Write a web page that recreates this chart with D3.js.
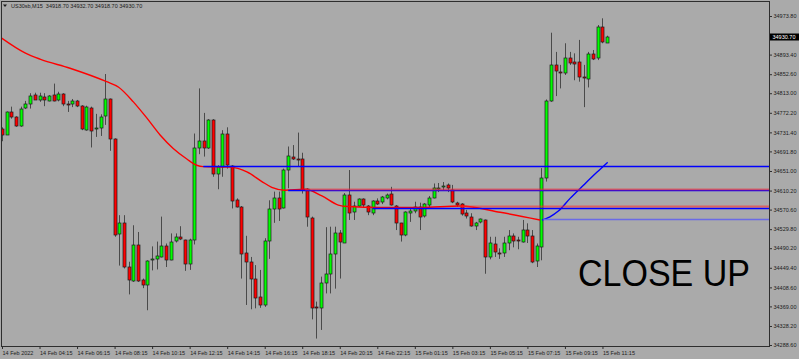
<!DOCTYPE html>
<html>
<head>
<meta charset="utf-8">
<script src="https://cdn.jsdelivr.net/npm/d3@7"></script>
<style>
  body { margin: 0; background: #aaaaaa; }
  svg { display: block; }
</style>
</head>
<body>
<div id="chart"></div>
<script>
// US30sb M15 bars, oldest first
var opens = [
  34738, 34727, 34773, 34763, 34745, 34781, 34790, 34810, 34800, 34806,
  34797, 34809, 34799, 34811, 34791, 34790, 34796, 34786, 34737, 34783,
  34737, 34742, 34765, 34800, 34718, 34519, 34543, 34451, 34422, 34497,
  34423, 34413, 34464, 34467, 34473, 34495, 34467, 34504, 34513, 34507,
  34457, 34507, 34698, 34714, 34698, 34757, 34644, 34659, 34728, 34662,
  34590, 34576, 34481, 34462, 34427, 34388, 34372, 34506, 34572, 34595,
  34574, 34653, 34681, 34677, 34675, 34613, 34554, 34368, 34365, 34417,
  34436, 34478, 34521, 34503, 34602, 34566, 34578, 34592, 34579, 34563,
  34589, 34585, 34594, 34604, 34578, 34542, 34517, 34564, 34568, 34575,
  34556, 34580, 34595, 34615, 34617, 34622, 34611, 34585, 34582, 34563,
  34556, 34536, 34543, 34549, 34471, 34498, 34481, 34480, 34501, 34516,
  34507, 34504, 34528, 34516, 34462, 34492, 34636, 34797, 34872, 34858,
  34856, 34887, 34879, 34877, 34847, 34842, 34894, 34885, 34950, 34918.7
];
var highs = [
  34742, 34775, 34785, 34765, 34785, 34797, 34813, 34814, 34814, 34813,
  34809, 34833, 34816, 34813, 34797, 34801, 34799, 34788, 34787, 34785,
  34770, 34769, 34853, 34802, 34719, 34559, 34559, 34462, 34538, 34524,
  34427, 34465, 34494, 34504, 34556, 34500, 34521, 34521, 34536, 34508,
  34510, 34729, 34823, 34772, 34759, 34759, 34663, 34736, 34742, 34663,
  34594, 34578, 34516, 34472, 34455, 34445, 34511, 34590, 34608, 34608,
  34656, 34702, 34705, 34731, 34689, 34615, 34556, 34379, 34431, 34534,
  34535, 34535, 34528, 34605, 34653, 34587, 34594, 34594, 34580, 34590,
  34594, 34599, 34604, 34618, 34580, 34543, 34567, 34574, 34587, 34585,
  34584, 34599, 34625, 34626, 34628, 34625, 34622, 34587, 34584, 34570,
  34563, 34545, 34552, 34550, 34514, 34514, 34490, 34514, 34528, 34521,
  34514, 34549, 34542, 34528, 34500, 34657, 34800, 34939, 34899, 34872,
  34917, 34899, 34896, 34924, 34872, 34899, 34903, 34955, 34969, 34932.7
];
var lows = [
  34713, 34726, 34760, 34743, 34743, 34780, 34781, 34799, 34795, 34786,
  34796, 34796, 34796, 34786, 34774, 34784, 34784, 34736, 34735, 34700,
  34722, 34724, 34747, 34693, 34514, 34454, 34448, 34394, 34420, 34420,
  34407, 34361, 34444, 34446, 34471, 34451, 34465, 34502, 34507, 34443,
  34445, 34498, 34686, 34681, 34697, 34639, 34613, 34639, 34656, 34573,
  34575, 34427, 34372, 34363, 34365, 34366, 34368, 34468, 34543, 34547,
  34573, 34615, 34674, 34661, 34604, 34535, 34342, 34302, 34320, 34396,
  34396, 34406, 34427, 34501, 34549, 34549, 34576, 34576, 34559, 34559,
  34580, 34582, 34592, 34579, 34528, 34504, 34515, 34545, 34563, 34528,
  34554, 34576, 34594, 34607, 34611, 34607, 34584, 34576, 34558, 34552,
  34535, 34528, 34542, 34437, 34467, 34472, 34468, 34472, 34486, 34492,
  34488, 34502, 34501, 34459, 34451, 34465, 34629, 34795, 34807, 34823,
  34851, 34872, 34840, 34837, 34784, 34825, 34882, 34882, 34917, 34918.7
];
var closes = [
  34725, 34774, 34763, 34745, 34781, 34790, 34807, 34800, 34808, 34799,
  34807, 34797, 34811, 34790, 34790, 34796, 34786, 34738, 34785, 34736,
  34740, 34764, 34800, 34717, 34519, 34542, 34451, 34423, 34497, 34422,
  34413, 34463, 34467, 34473, 34495, 34465, 34504, 34513, 34508, 34457,
  34507, 34698, 34713, 34699, 34757, 34644, 34659, 34728, 34663, 34590,
  34576, 34479, 34462, 34427, 34388, 34372, 34506, 34572, 34594, 34572,
  34654, 34683, 34677, 34674, 34611, 34554, 34367, 34366, 34417, 34436,
  34478, 34521, 34503, 34602, 34565, 34578, 34592, 34580, 34566, 34589,
  34583, 34596, 34601, 34582, 34542, 34517, 34565, 34568, 34576, 34554,
  34582, 34595, 34615, 34616, 34619, 34615, 34585, 34580, 34561, 34557,
  34538, 34543, 34550, 34471, 34501, 34481, 34479, 34501, 34516, 34506,
  34505, 34528, 34516, 34462, 34494, 34636, 34797, 34872, 34859, 34856,
  34887, 34877, 34874, 34846, 34844, 34894, 34883, 34950, 34918.7, 34930.7
];

// moving average (bar index, price)
var maIdx = [-0.4, 4.9, 8.1, 14.5, 22.3, 24.8, 28.0, 30.9, 33.7, 36.5, 39.4, 41.5, 42.9,
  48.6, 52.2, 55.4, 57.5, 60.3, 64.6, 68.2, 71.7, 73.8, 80.6, 89.1, 97.7, 106.2, 114.7];
var maVal = [34930, 34897, 34884, 34865, 34837, 34826, 34795, 34761, 34726, 34698, 34676, 34663, 34660,
  34659, 34649, 34629, 34617, 34611, 34613, 34599, 34580, 34577, 34575, 34575, 34578, 34565, 34549];

// blue projection curve
var projIdx = [115.1, 116.8, 118.6, 121.1, 124.0, 126.8, 129.1];
var projVal = [34548.7, 34555.6, 34567.5, 34594, 34621.8, 34648.2, 34669.1];

// horizontal levels: price, starting bar, kind
var levelVal = [34660.5, 34611.2, 34614.0, 34573.7, 34578.0, 34550.8];
var levelFrom = [42.9, 61.0, 64.6, 79.0, 97.7, 115.4];
var levelKind = ["blue", "blue", "red", "blue", "red", "violet"];

var priceTicks = [34973.80, 34893.40, 34852.60, 34813.00, 34772.20, 34731.40, 34691.80, 34651.00,
  34610.20, 34570.60, 34529.80, 34490.20, 34449.40, 34408.60, 34369.00, 34328.20, 34288.60];
var timeTickIdx = [0, 8, 16, 24, 32, 40, 48, 56, 64, 72, 80, 88, 96, 104, 112, 120, 128];
var timeLabels = ["14 Feb 2022", "14 Feb 04:15", "14 Feb 06:15", "14 Feb 08:15", "14 Feb 10:15",
  "14 Feb 12:15", "14 Feb 14:15", "14 Feb 16:15", "14 Feb 18:15", "14 Feb 20:15", "14 Feb 22:15",
  "15 Feb 01:15", "15 Feb 03:15", "15 Feb 05:15", "15 Feb 07:15", "15 Feb 09:15", "15 Feb 11:15"];
var lastPrice = 34930.70;
var title = "US30sb,M15  34918.70 34932.70 34918.70 34930.70";
var note = "CLOSE UP";

var width = 799, height = 359;
var frame = {left: 1.5, top: 1.5, right: 769.5, bottom: 346.5};
var smallFont = "'Liberation Sans', Arial, sans-serif";
var kindColor = {blue: "#0000ff", red: "rgba(255,40,40,0.55)", violet: "#6a6ae6"};

var svg = d3.select("#chart").append("svg")
  .attr("width", width)
  .attr("height", height);

svg.append("rect")
  .attr("width", width)
  .attr("height", height)
  .attr("fill", "#aaaaaa");

var xScale = d3.scaleLinear().domain([0, 163.5]).range([2, 769]);
var yScale = d3.scaleLinear().domain([34288.6, 34973.8]).range([345, 16]);

svg.append("clipPath").attr("id", "plot")
  .append("rect")
  .attr("x", frame.left + 0.5)
  .attr("y", frame.top + 0.5)
  .attr("width", frame.right - frame.left - 1)
  .attr("height", frame.bottom - frame.top - 1);

var plot = svg.append("g").attr("clip-path", "url(#plot)");

var bars = d3.range(opens.length).map(function(i) {
  return {i: i, o: opens[i], h: highs[i], l: lows[i], c: closes[i]};
});

// candles
var candle = plot.selectAll(".candle")
  .data(bars)
  .enter()
  .append("g")
  .attr("class", "candle");

candle.append("line")
  .attr("x1", function(d) { return Math.round(xScale(d.i)) + 0.5; })
  .attr("x2", function(d) { return Math.round(xScale(d.i)) + 0.5; })
  .attr("y1", function(d) { return yScale(d.h); })
  .attr("y2", function(d) { return yScale(d.l); })
  .attr("stroke", "#4a4a4a")
  .attr("stroke-width", 1);

candle.append("rect")
  .attr("x", function(d) { return Math.round(xScale(d.i)) - 1; })
  .attr("width", 3)
  .attr("y", function(d) { return Math.round(yScale(Math.max(d.o, d.c))); })
  .attr("height", function(d) { return Math.max(1, Math.round(Math.abs(yScale(d.o) - yScale(d.c)))); })
  .attr("fill", function(d) { return d.c > d.o ? "#00ff00" : "#ff0000"; })
  .attr("stroke", "#1c1c1c")
  .attr("stroke-width", 0.7);

// moving average and projection
var line = d3.line()
  .x(function(d) { return xScale(d[0]); })
  .y(function(d) { return yScale(d[1]); })
  .curve(d3.curveMonotoneX);

plot.append("path")
  .datum(d3.zip(maIdx, maVal))
  .attr("d", line)
  .attr("fill", "none")
  .attr("stroke", "#ff0000")
  .attr("stroke-width", 1.4);

plot.append("path")
  .datum(d3.zip(projIdx, projVal))
  .attr("d", line)
  .attr("fill", "none")
  .attr("stroke", "#0000ff")
  .attr("stroke-width", 1.4);

// horizontal levels
plot.selectAll(".level")
  .data(d3.range(levelVal.length))
  .enter()
  .append("line")
  .attr("class", "level")
  .attr("x1", function(k) { return xScale(levelFrom[k]); })
  .attr("x2", frame.right)
  .attr("y1", function(k) { return Math.round(yScale(levelVal[k])) + 0.5; })
  .attr("y2", function(k) { return Math.round(yScale(levelVal[k])) + 0.5; })
  .attr("stroke", function(k) { return kindColor[levelKind[k]]; })
  .attr("stroke-width", function(k) { return levelKind[k] == "red" ? 2 : 1.3; });

// frame
svg.append("rect")
  .attr("x", frame.left)
  .attr("y", frame.top)
  .attr("width", frame.right - frame.left)
  .attr("height", frame.bottom - frame.top)
  .attr("fill", "none")
  .attr("stroke", "#2e2e2e")
  .attr("stroke-width", 1);

// price axis
var yAxis = svg.append("g")
  .attr("transform", "translate(" + frame.right + ",0)")
  .call(d3.axisRight(yScale)
    .tickValues(priceTicks)
    .tickSize(2.5)
    .tickPadding(1.5)
    .tickFormat(d3.format(".2f")));
yAxis.select(".domain").remove();
yAxis.selectAll("line").attr("stroke", "#2e2e2e");
yAxis.selectAll("text")
  .attr("font-family", smallFont)
  .attr("font-size", 5.5)
  .attr("fill", "#1a1a1a");

// time axis
var xAxis = svg.append("g")
  .attr("transform", "translate(0," + frame.bottom + ")")
  .call(d3.axisBottom(xScale)
    .tickValues(timeTickIdx)
    .tickSize(2.5)
    .tickFormat(function(d, k) { return timeLabels[k]; }));
xAxis.select(".domain").remove();
xAxis.selectAll("line").attr("stroke", "#2e2e2e");
xAxis.selectAll("text")
  .attr("text-anchor", "start")
  .attr("y", 8.5)
  .attr("dy", 0)
  .attr("x", 0)
  .attr("font-family", smallFont)
  .attr("font-size", 5.5)
  .attr("fill", "#1a1a1a");

// last price marker
var lp = Math.round(yScale(lastPrice));
svg.append("rect")
  .attr("x", frame.right + 0.5)
  .attr("y", lp - 3.5)
  .attr("width", 29)
  .attr("height", 7)
  .attr("fill", "#000000");
svg.append("text")
  .attr("x", frame.right + 3)
  .attr("y", lp + 2)
  .attr("font-family", smallFont)
  .attr("font-size", 5.5)
  .attr("fill", "#ffffff")
  .text(d3.format(".2f")(lastPrice));

// title
svg.append("path")
  .attr("d", "M3,4.5 L7,4.5 L5,7 Z")
  .attr("fill", "#1a1a1a");
svg.append("text")
  .attr("x", 11)
  .attr("y", 8)
  .attr("font-family", smallFont)
  .attr("font-size", 5.5)
  .attr("fill", "#1a1a1a")
  .attr("xml:space", "preserve")
  .style("white-space", "pre")
  .text(title);

svg.append("text")
  .attr("x", 578)
  .attr("y", 286)
  .attr("font-family", "'Liberation Sans', Arial, sans-serif")
  .attr("font-size", 37)
  .attr("textLength", 172)
  .attr("lengthAdjust", "spacingAndGlyphs")
  .attr("fill", "#000000")
  .text(note);
</script>
</body>
</html>
